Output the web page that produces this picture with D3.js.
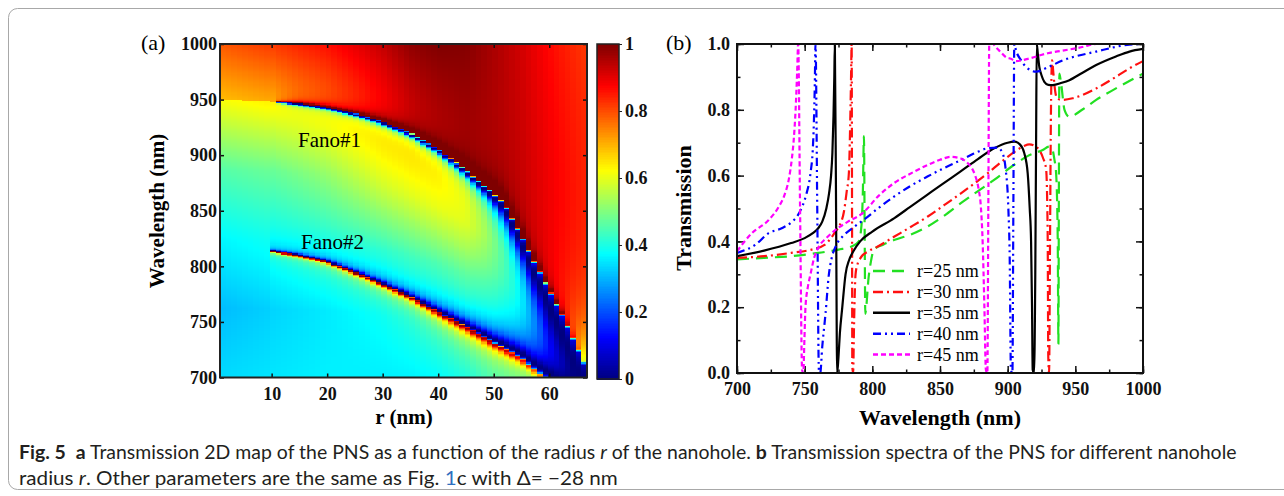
<!DOCTYPE html>
<html><head><meta charset="utf-8">
<script src="https://cdn.jsdelivr.net/npm/d3@7"></script>
<style>
html,body{margin:0;padding:0;background:#fff;}
svg{display:block;}
</style></head>
<body><svg id="chart" width="1284" height="496"></svg>
<script>
// ================= DATA =================
// Panel (a): transmission map, described by quantities
const mapRadius      = [1, 10, 20, 30, 35, 40, 45, 50, 55, 60, 67];
const lowLevel0      = [0.34, 0.35, 0.36, 0.355, 0.355, 0.36, 0.38, 0.43, 0.47, 0.47, 0.47]; // at 700 nm
const lowLevel25     = [0.31, 0.33, 0.35, 0.37, 0.39, 0.41, 0.44, 0.47, 0.50, 0.50, 0.50];
const lowLevel50     = [0.37, 0.39, 0.42, 0.45, 0.47, 0.49, 0.52, 0.53, 0.55, 0.55, 0.55];
const lowLevel75     = [0.46, 0.48, 0.53, 0.60, 0.62, 0.64, 0.65, 0.61, 0.60, 0.60, 0.60];
const lowLevel100    = [0.62, 0.64, 0.68, 0.73, 0.74, 0.74, 0.72, 0.65, 0.62, 0.62, 0.62]; // just below Fano#1
const highLevelNear  = [0.69, 0.71, 0.75, 0.82, 0.87, 0.91, 0.945, 0.96, 0.97, 0.97, 0.96]; // just above Fano#1
const highLevel1000  = [0.79, 0.82, 0.86, 0.93, 0.98, 1.0, 1.0, 0.97, 0.94, 0.90, 0.85];   // at 1000 nm

const fano1Radius     = [1, 10, 15, 20, 25, 30, 35, 40, 45, 48, 50, 52, 53, 55, 57, 58, 60, 62, 63, 65, 66, 67];
const fano1Wavelength = [949.5, 948.5, 946.5, 943, 937.5, 930, 919.5, 905, 886, 873, 865, 855, 845, 827, 806, 797, 778, 759, 749, 727, 716, 705];
const fano1Width      = [0, 0, 0.3, 0.45, 0.6, 0.9, 1.1, 1.5, 2.5, 3.5, 5, 8, 9, 12, 17, 20, 28, 32, 35, 40, 42, 45];

const fano2Radius     = [10, 15, 20, 25, 30, 35, 40, 45, 50, 55, 58, 62];
const fano2Wavelength = [814, 810, 804.5, 795, 784.5, 773, 759.5, 746.5, 732, 718, 705, 692];
const fano2Width      = [0.2, 0.3, 0.4, 0.55, 0.7, 0.85, 1.2, 1.6, 2.5, 4, 5, 6];

const mapRadiusTicks     = [10, 20, 30, 40, 50, 60];
const mapWavelengthTicks = [700, 750, 800, 850, 900, 950, 1000];
const colorbarTicks      = [0, 0.2, 0.4, 0.6, 0.8, 1];

// Panel (b): transmission spectra [wavelength nm, transmission]
const seriesNames = ["r=25 nm", "r=30 nm", "r=35 nm", "r=40 nm", "r=45 nm"];
const spectrumR25 = [[700,0.345],[720,0.35],[740,0.355],[760,0.365],[775,0.375],[785,0.385],[790,0.40],[792,0.45],[793,0.55],[793.8,0.72],[794.3,0.45],[794.8,0.18],[795.5,0.2],[797,0.28],[799,0.34],[801.2,0.375],[808,0.39],[816,0.404],[828,0.42],[840.7,0.445],[852,0.475],[865.4,0.516],[877,0.55],[890,0.587],[906.2,0.637],[915,0.66],[925.9,0.678],[930.6,0.688],[933,0.68],[934.5,0.65],[935.8,0.607],[937,0.404],[937.5,0.09],[937.8,0.5],[938.2,0.91],[939.5,0.88],[942,0.8],[945.6,0.779],[955,0.8],[965.4,0.83],[980,0.865],[1000,0.91]];
const spectrumR30 = [[700,0.35],[720,0.355],[740,0.365],[755,0.375],[765,0.39],[772.8,0.43],[776,0.45],[779,0.49],[781,0.55],[782.7,0.61],[783.6,0.75],[784.2,0.88],[784.7,1.0],[785.0,0.5],[785.2,0.02],[785.8,0.0],[786.5,0.15],[787.6,0.30],[789,0.33],[791.3,0.35],[797,0.37],[803.7,0.384],[816,0.414],[828,0.443],[840.7,0.475],[853,0.51],[865.4,0.546],[885.2,0.607],[896.3,0.645],[905,0.672],[912,0.69],[916,0.695],[920,0.69],[923.4,0.678],[926,0.655],[928.4,0.62],[929.3,0.50],[929.6,0.40],[930,0.05],[930.6,0.0],[931.3,0.4],[932,0.8],[932.8,0.95],[933.8,0.91],[935,0.86],[936.5,0.835],[940,0.83],[948,0.835],[965.4,0.865],[980,0.9],[990,0.926],[1000,0.948]];
const spectrumR35 = [[700,0.355],[720,0.372],[740,0.395],[750,0.41],[756,0.425],[760,0.44],[763,0.46],[766,0.50],[768,0.545],[769.5,0.60],[770.5,0.67],[771.3,0.78],[771.9,0.9],[772.3,1.0],[773.2,0.5],[774,0.0],[775,0.05],[776,0.12],[777.8,0.2],[780.2,0.30],[783,0.345],[786,0.37],[791,0.40],[800,0.43],[816,0.47],[828,0.505],[840,0.54],[852,0.575],[865,0.612],[878,0.65],[890,0.683],[900,0.70],[905,0.703],[909,0.695],[912.3,0.668],[914.8,0.607],[916.3,0.50],[917.3,0.40],[918,0.2],[918.5,0.01],[919.5,0.0],[920.4,0.3],[921,0.7],[921.5,1.0],[922.3,0.97],[923.4,0.93],[925,0.905],[927.1,0.885],[930,0.876],[933.3,0.875],[940,0.882],[945.6,0.89],[955,0.912],[965.4,0.936],[980,0.962],[990,0.977],[1000,0.985]];
const spectrumR40 = [[700,0.365],[713.6,0.39],[723.4,0.425],[733,0.44],[740.7,0.46],[745,0.48],[748.1,0.505],[751,0.54],[754.3,0.607],[756,0.68],[756.8,0.76],[757.5,0.88],[758,1.0],[759.3,0.5],[760.5,0.01],[761.5,0.0],[763,0.08],[765.4,0.18],[767.9,0.30],[770,0.35],[772.8,0.384],[778,0.415],[785.2,0.44],[795,0.47],[805,0.503],[816,0.536],[828,0.568],[840.7,0.597],[853,0.623],[865.4,0.647],[875,0.667],[885.2,0.683],[892.6,0.685],[896,0.67],[898.5,0.62],[900.5,0.5],[901.5,0.35],[902.4,0.01],[903.5,0.0],[904.2,0.5],[904.9,1.0],[906.2,0.98],[910,0.95],[913.6,0.93],[920.9,0.916],[930,0.93],[940.7,0.95],[965.4,0.977],[990,0.998],[1000,1.0]];
const spectrumR45 = [[700,0.37],[711,0.425],[723.4,0.465],[730.8,0.505],[735,0.54],[738.2,0.587],[740.5,0.65],[741.9,0.708],[743.3,0.8],[744.4,0.91],[745.2,1.0],[746.6,0.5],[748.1,0.01],[749,0.0],[749.8,0.1],[750.6,0.2],[752.3,0.26],[754.3,0.30],[757,0.35],[760.5,0.384],[766,0.41],[772.8,0.435],[782,0.46],[792.6,0.485],[805,0.54],[816,0.577],[830,0.61],[840.7,0.632],[850,0.648],[858,0.657],[865.4,0.652],[870,0.64],[872.8,0.627],[876,0.6],[878.5,0.56],[880.2,0.505],[881.5,0.4],[882.8,0.2],[883.9,0.01],[885,0.0],[885.7,0.5],[886.4,1.0],[889,1.0],[891.3,0.99],[895,0.975],[898.7,0.96],[902.4,0.955],[906.2,0.948],[915,0.955],[929.6,0.972],[940.7,0.98],[954.3,0.99],[965.4,1.0],[1000,1.0]];
const spectraTicksX = [700, 750, 800, 850, 900, 950, 1000];
const spectraTicksY = [0, 0.2, 0.4, 0.6, 0.8, 1.0];

// ================= DRAW =================
const svg = d3.select("#chart");
const serif = "'Liberation Serif','Times New Roman',Times,serif";

svg.append("rect").attr("x", 8.5).attr("y", 8.5).attr("width", 1300).attr("height", 481)
  .attr("rx", 9).attr("fill", "none").attr("stroke", "#a8a8a8").attr("stroke-width", 1);

const jet = d3.scaleLinear().domain([0, 0.125, 0.375, 0.625, 0.875, 1])
  .range(["#00007f", "#0000ff", "#00ffff", "#ffff00", "#ff0000", "#7f0000"]).clamp(true);

// ----- Panel (a) -----
const xA = d3.scaleLinear().domain([0.7, 66.8]).range([220, 587]);
const yA = d3.scaleLinear().domain([700, 1000]).range([377.5, 44]);
const itp = (xs, ys) => d3.scaleLinear().domain(xs).range(ys).clamp(true);
const sLow = [lowLevel0, lowLevel25, lowLevel50, lowLevel75, lowLevel100].map(a => itp(mapRadius, a));
const sHiN = itp(mapRadius, highLevelNear), sHiF = itp(mapRadius, highLevel1000);
const sF1W = itp(fano1Radius, fano1Wavelength), sF1G = itp(fano1Radius, fano1Width);
const sF2W = itp(fano2Radius, fano2Wavelength), sF2G = itp(fano2Radius, fano2Width);

const nCols = 66, rStep = (66.8 - 0.7) / nCols;
const cells = [];
for (let i = 0; i < nCols; i++) {
  const r0 = 0.7 + i * rStep, r1 = r0 + rStep, r = (r0 + r1) / 2;
  const lo = sLow.map(s => s(r));
  const lowU = d3.scaleLinear().domain([0, 0.25, 0.5, 0.75, 1]).range(lo).clamp(true);
  const l1 = sF1W(r), g1 = sF1G(r), hiN = sHiN(r), hiF = sHiF(r);
  const q1 = Math.sqrt(1 / ((lo[4] + hiN) / 2) - 1);
  const has2 = r >= 9.5;
  const l2 = sF2W(r), g2 = sF2G(r);
  const b2 = lowU((l2 - 700) / (l1 - 700));
  const q2 = -Math.sqrt(1 / b2 - 1);
  const bgAt = lam => lam < l1 ? lowU((lam - 700) / (l1 - 700)) : hiN + (hiF - hiN) * (lam - l1) / (1000 - l1);
  const tAt = lam => {
    const bg = bgAt(lam);
    let F = 1;
    if (g1 >= 0.05) {
      const e = (lam - l1) / (lam > l1 ? Math.min(g1, 1.2) : g1);
      F *= (e + q1) * (e + q1) / (1 + e * e);
    }
    if (has2) {
      const e = (lam - l2) / (lam < l2 ? Math.min(g2, 1.5) : g2);
      F *= (e + q2) * (e + q2) / (1 + e * e);
    }
    return [Math.max(0, Math.min(1, bg * F)), bg];
  };
  for (let lam = 700; lam < 1000; lam += 1) {
    let best = null, dev = -1;
    for (const f of [0.125, 0.375, 0.625, 0.875]) {
      const [t, bg] = tAt(lam + f);
      if (Math.abs(t - bg) > dev) { dev = Math.abs(t - bg); best = t; }
    }
    cells.push({ r0, r1, l0: lam, l1: lam + 1, t: best });
  }
}
svg.append("clipPath").attr("id", "clipA").append("rect")
  .attr("x", 220).attr("y", 44).attr("width", 367).attr("height", 333.5);
svg.append("g").attr("clip-path", "url(#clipA)").attr("shape-rendering", "crispEdges")
  .selectAll("rect").data(cells).join("rect")
  .attr("x", d => xA(d.r0)).attr("width", d => xA(d.r1) - xA(d.r0) + 0.5)
  .attr("y", d => yA(d.l1)).attr("height", d => yA(d.l0) - yA(d.l1) + 0.5)
  .attr("fill", d => jet(d.t));

// inward ticks panel a
const tickA = (axis, tr) => svg.append("g").attr("transform", tr).call(axis)
  .call(g => g.select(".domain").remove()).call(g => g.selectAll("line").attr("stroke", "#111").attr("stroke-width", 1.5));
tickA(d3.axisLeft(yA).tickValues(mapWavelengthTicks).tickSize(-4).tickFormat(""), "translate(220,0)");
tickA(d3.axisRight(yA).tickValues(mapWavelengthTicks).tickSize(-4).tickFormat(""), "translate(587,0)");
tickA(d3.axisBottom(xA).tickValues(mapRadiusTicks).tickSize(-4).tickFormat(""), "translate(0,377.5)");
tickA(d3.axisTop(xA).tickValues(mapRadiusTicks).tickSize(-4).tickFormat(""), "translate(0,44)");
svg.append("rect").attr("x", 220).attr("y", 44).attr("width", 367).attr("height", 333.5)
  .attr("fill", "none").attr("stroke", "#222").attr("stroke-width", 2);

const labelAxis = (axis, tr) => {
  const g = svg.append("g").attr("transform", tr).call(axis);
  g.select(".domain").remove();
  g.selectAll("text").attr("font-family", serif).attr("font-size", 18).attr("font-weight", "bold").attr("fill", "#111");
  return g;
};
labelAxis(d3.axisLeft(yA).tickValues(mapWavelengthTicks).tickSize(0).tickPadding(3).tickFormat(d3.format("d")), "translate(220,0)");
labelAxis(d3.axisBottom(xA).tickValues(mapRadiusTicks).tickSize(0).tickPadding(10).tickFormat(d3.format("d")), "translate(0,377.5)");

svg.append("text").attr("transform", "translate(157,211) rotate(-90)").attr("text-anchor", "middle")
  .attr("dominant-baseline", "central").attr("font-family", serif).attr("font-size", 21).attr("font-weight", "bold")
  .text("Wavelength (nm)");
svg.append("text").attr("x", 404).attr("y", 424).attr("text-anchor", "middle")
  .attr("font-family", serif).attr("font-size", 21).attr("font-weight", "bold").text("r (nm)");
svg.append("text").attr("x", 141).attr("y", 50).attr("font-family", serif).attr("font-size", 22).text("(a)");
svg.append("text").attr("x", 298).attr("y", 147).attr("font-family", serif).attr("font-size", 21).text("Fano#1");
svg.append("text").attr("x", 301).attr("y", 249).attr("font-family", serif).attr("font-size", 21).text("Fano#2");

// colorbar
const yC = d3.scaleLinear().domain([0, 1]).range([379, 44]);
const cbSteps = d3.range(0, 1, 0.005);
svg.append("g").attr("shape-rendering", "crispEdges").selectAll("rect").data(cbSteps).join("rect")
  .attr("x", 597).attr("width", 22).attr("y", d => yC(d + 0.005)).attr("height", d => yC(d) - yC(d + 0.005) + 0.6)
  .attr("fill", d => jet(d + 0.0025));
svg.append("rect").attr("x", 597).attr("y", 44).attr("width", 22).attr("height", 335)
  .attr("fill", "none").attr("stroke", "#222").attr("stroke-width", 1.5);
const cb = labelAxis(d3.axisRight(yC).tickValues(colorbarTicks).tickSize(3).tickPadding(3).tickFormat(d3.format("~g")), "translate(619,0)");
cb.selectAll("line").attr("stroke", "#222");

// ----- Panel (b) -----
const xB = d3.scaleLinear().domain([700, 1000]).range([737, 1143]);
const yB = d3.scaleLinear().domain([0, 1]).range([373, 44]);
const minorX = d3.range(700, 1001, 25), minorY = d3.range(0, 1.001, 0.1);
const tickB = (axis, tr) => svg.append("g").attr("transform", tr).call(axis)
  .call(g => g.select(".domain").remove()).call(g => g.selectAll("line").attr("stroke", "#111").attr("stroke-width", 1.5));
tickB(d3.axisBottom(xB).tickValues(minorX).tickSize(-3.5).tickFormat(""), "translate(0,373)");
tickB(d3.axisTop(xB).tickValues(minorX).tickSize(-3.5).tickFormat(""), "translate(0,44)");
tickB(d3.axisBottom(xB).tickValues(spectraTicksX).tickSize(-7).tickFormat(""), "translate(0,373)");
tickB(d3.axisTop(xB).tickValues(spectraTicksX).tickSize(-7).tickFormat(""), "translate(0,44)");
tickB(d3.axisLeft(yB).tickValues(minorY).tickSize(-3.5).tickFormat(""), "translate(737,0)");
tickB(d3.axisRight(yB).tickValues(minorY).tickSize(-3.5).tickFormat(""), "translate(1143,0)");
tickB(d3.axisLeft(yB).tickValues(spectraTicksY).tickSize(-7).tickFormat(""), "translate(737,0)");
tickB(d3.axisRight(yB).tickValues(spectraTicksY).tickSize(-7).tickFormat(""), "translate(1143,0)");
labelAxis(d3.axisBottom(xB).tickValues(spectraTicksX).tickSize(0).tickPadding(9).tickFormat(d3.format("d")), "translate(0,373)");
labelAxis(d3.axisLeft(yB).tickValues(spectraTicksY).tickSize(0).tickPadding(7).tickFormat(d3.format(".1f")), "translate(737,0)");

const spectra = [spectrumR25, spectrumR30, spectrumR35, spectrumR40, spectrumR45];
const lineColors = ["#22e022", "#ff1010", "#000000", "#0000ff", "#ff00ff"];
const lineDash = ["12,7", "10,4,2,4", null, "8,4,2,4,2,4", "5,3"];
svg.append("clipPath").attr("id", "clipB").append("rect")
  .attr("x", 737).attr("y", 44).attr("width", 406).attr("height", 329);
const line = d3.line().x(d => xB(d[0])).y(d => yB(d[1])).curve(d3.curveMonotoneX);
svg.append("g").attr("clip-path", "url(#clipB)").selectAll("path").data(spectra).join("path")
  .attr("d", line).attr("fill", "none").attr("stroke", (d, i) => lineColors[i])
  .attr("stroke-width", 2.2).attr("stroke-dasharray", (d, i) => lineDash[i]);
svg.append("rect").attr("x", 737).attr("y", 44).attr("width", 406).attr("height", 329)
  .attr("fill", "none").attr("stroke", "#111").attr("stroke-width", 2);

// legend
const legY = d3.scaleLinear().domain([0, 4]).range([271, 354.5]);
const leg = svg.append("g").selectAll("g").data(seriesNames).join("g")
  .attr("transform", (d, i) => `translate(0,${legY(i)})`);
leg.append("line").attr("x1", 873).attr("x2", 910).attr("y1", 0).attr("y2", 0)
  .attr("stroke", (d, i) => lineColors[i]).attr("stroke-width", 2.5).attr("stroke-dasharray", (d, i) => lineDash[i]);
leg.append("text").attr("x", 917).attr("y", 0).attr("dominant-baseline", "central")
  .attr("font-family", serif).attr("font-size", 18).text(d => d);

svg.append("text").attr("transform", "translate(683,208) rotate(-90)").attr("text-anchor", "middle")
  .attr("dominant-baseline", "central").attr("font-family", serif).attr("font-size", 22).attr("font-weight", "bold")
  .text("Transmission");
svg.append("text").attr("x", 940).attr("y", 425).attr("text-anchor", "middle")
  .attr("font-family", serif).attr("font-size", 22).attr("font-weight", "bold").text("Wavelength (nm)");
svg.append("text").attr("x", 666).attr("y", 50).attr("font-family", serif).attr("font-size", 22).text("(b)");

// ----- Caption -----
const capFont = "Lato,'Liberation Sans',sans-serif";
const captionLines = [
  { y: 459, width: 1218, parts: [
    { t: "Fig. 5", b: true }, { t: "  " }, { t: "a", b: true },
    { t: " Transmission 2D map of the PNS as a function of the radius " }, { t: "r", i: true },
    { t: " of the nanohole. " }, { t: "b", b: true },
    { t: " Transmission spectra of the PNS for different nanohole" }] },
  { y: 485, width: 599, parts: [
    { t: "radius " }, { t: "r", i: true }, { t: ". Other parameters are the same as Fig. " },
    { t: "1", c: "#2f6fc0" }, { t: "c with Δ= −28 nm" }] }
];
captionLines.forEach(cl => {
  const g = svg.append("g");
  const tx = g.append("text").attr("x", 0).attr("y", 0).attr("font-family", capFont)
    .attr("font-size", 19).attr("fill", "#231f20").style("white-space", "pre");
  cl.parts.forEach(p => {
    tx.append("tspan").text(p.t).attr("font-weight", p.b ? "bold" : null)
      .attr("font-style", p.i ? "italic" : null).attr("fill", p.c || null);
  });
  const w = tx.node().getComputedTextLength();
  g.attr("transform", `translate(19,${cl.y}) scale(${cl.width / w},1)`);
});
</script>
</body></html>
